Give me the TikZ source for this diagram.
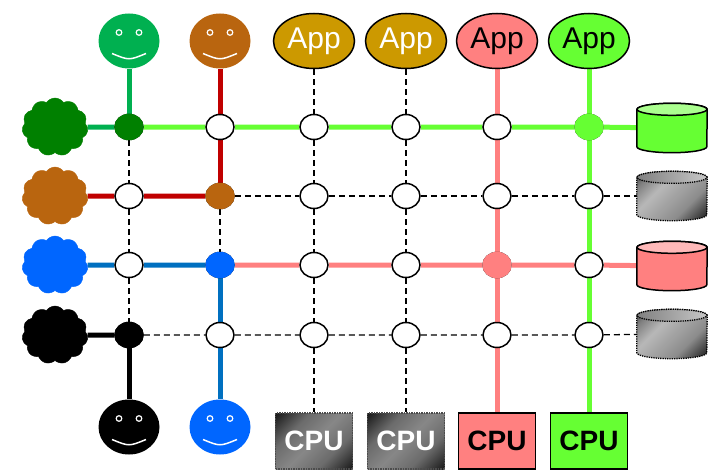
\documentclass[tikz,border=0pt]{standalone}
\usepackage{fontspec}
\setmainfont{Liberation Sans}
\usetikzlibrary{shapes.geometric,shapes.symbols,backgrounds}

\definecolor{facegreen}{HTML}{00B050}
\definecolor{darkgreen}{HTML}{008000}
\definecolor{limegreen}{HTML}{66FF33}
\definecolor{rust}{HTML}{B9650F}
\definecolor{darkred}{HTML}{C00000}
\definecolor{gold}{HTML}{CC9900}
\definecolor{salmon}{HTML}{FF8080}
\definecolor{brightblue}{HTML}{0066FF}
\definecolor{steelblue}{HTML}{0070C0}

% brushed metal look for the idle boxes and drums
\pgfdeclareverticalshading{metal}{100bp}{color(0bp)=(black!92); color(16bp)=(black!88);
  color(33bp)=(black!58); color(50bp)=(black!47); color(67bp)=(black!58);
  color(84bp)=(black!88); color(100bp)=(black!92)}
\pgfdeclareverticalshading{drumtone}{100bp}{color(0bp)=(black!92); color(16bp)=(black!88);
  color(35bp)=(black!45); color(62bp)=(black!28); color(76bp)=(black!50);
  color(86bp)=(black!80); color(100bp)=(black!85)}

% storage drum around a db node: name, body options, lid options
\newcommand\drum[3]{%
  \path[#2] ([yshift=-6pt]#1.north west) -- ([yshift=6pt]#1.south west)
    arc[start angle=180, end angle=360, x radius=35pt, y radius=6pt]
    -- ([yshift=-6pt]#1.north east)
    arc[start angle=0, end angle=180, x radius=35pt, y radius=6pt] -- cycle;
  \path[#3] ([yshift=-6pt]#1.north) ellipse[x radius=35pt, y radius=6pt];
}

\tikzset{
  jn/.style={ellipse, draw, line width=1.5pt, fill=white,
    minimum width=28pt, minimum height=25pt, inner sep=0pt},
  jf/.style={jn, draw=#1, fill=#1},
  wire/.style={draw=#1, line width=5pt},
  link/.style={draw=black, line width=1.3pt, dash pattern=on 6pt off 4pt},
  cloudy/.style={cloud, cloud puffs=11, cloud puff arc=110, aspect=1.1,
    fill=#1, draw=#1, minimum width=66pt, minimum height=58pt, inner sep=0pt},
  smiley/.style={ellipse, fill=#1, minimum width=61pt, minimum height=55pt,
    inner sep=0pt, path picture={
      \coordinate (fc) at (path picture bounding box.center);
      \draw[white, line width=1.2pt] ([shift={(-10pt,8.5pt)}]fc) circle (2.8pt)
        ([shift={(10pt,8.5pt)}]fc) circle (2.8pt);
      \draw[white, line width=1.5pt] ([shift={(-17pt,-12.5pt)}]fc)
        .. controls ([shift={(0pt,-19.5pt)}]fc) .. ([shift={(17pt,-12.5pt)}]fc);
    }},
  app/.style={ellipse, draw, line width=1.5pt, fill=#1, minimum width=81pt,
    minimum height=55pt, inner sep=0pt, font=\fontsize{30}{30}\selectfont},
  cpu/.style={rectangle, draw, line width=1.5pt, fill=#1, minimum width=77pt,
    minimum height=56pt, inner sep=0pt, font=\bfseries\fontsize{28}{28}\selectfont},
  cpugray/.style={cpu, draw=black!70, densely dotted, shading=metal,
    shading angle=45, text=white},
  db/.style={rectangle, minimum width=70pt, minimum height=49pt, inner sep=0pt},
  dbbody/.style={draw, line width=1.5pt, fill=#1},
  graybody/.style={draw, line width=1.3pt, densely dotted, shading=drumtone,
    shading angle=45},
  graylid/.style={draw, line width=1.3pt, densely dotted, left color=black!50,
    right color=black!22}
}

\begin{document}
\begin{tikzpicture}[x=1pt,y=1pt]
\useasboundingbox (0,0) rectangle (711,475);

% crossing points
\foreach \r/\y in {1/348,2/279,3/210,4/140}
  \foreach \c/\x in {1/129,2/220,3/314,4/406,5/497,6/589}
    \node[jn] (j\r\c) at (\x,\y) {};
\node[jf=darkgreen] (j11) at (j11) {};
\node[jf=limegreen] (j16) at (j16) {};
\node[jf=rust] (j22) at (j22) {};
\node[jf=brightblue] (j32) at (j32) {};
\node[jf=salmon] (j35) at (j35) {};
\node[jf=black] (j41) at (j41) {};

% users
\node[smiley=facegreen] (u1) at (129,434) {};
\node[smiley=rust] (u2) at (220,434) {};
\node[smiley=black] (u3) at (129,48) {};
\node[smiley=brightblue] (u4) at (220,48) {};

% clouds
\node[cloudy=darkgreen] (k1) at (55,348) {};
\node[cloudy=rust] (k2) at (55,279) {};
\node[cloudy=brightblue] (k3) at (55,210) {};
\node[cloudy=black] (k4) at (55,140) {};

% applications
\node[app=gold, text=white] (a3) at (314,434) {App};
\node[app=gold, text=white] (a4) at (406,434) {App};
\node[app=salmon] (a5) at (497,434) {App};
\node[app=limegreen] (a6) at (589,434) {App};

% processors
\node[cpugray] (p3) at (314,34) {CPU};
\node[cpugray] (p4) at (406,34) {CPU};
\node[cpu=salmon] (p5) at (497,34) {CPU};
\node[cpu=limegreen] (p6) at (589,34) {CPU};

% storage
\node[db] (d1) at (672,347) {};
\node[db] (d2) at (672,279) {};
\node[db] (d3) at (672,209) {};
\node[db] (d4) at (672,141) {};
\drum{d1}{dbbody=limegreen}{dbbody=limegreen!55!white}
\drum{d2}{graybody}{graylid}
\drum{d3}{dbbody=salmon}{dbbody=salmon!55!white}
\drum{d4}{graybody}{graylid}

\begin{scope}[on background layer]
\draw[wire=facegreen] (k1) -- (j11);
\draw[wire=facegreen] (j11) -- (u1);
\draw[wire=limegreen] (j11) -- (j12) -- (j13) -- (j14) -- (j15) -- (j16) -- (d1);
\draw[wire=limegreen] (a6) -- (j16) -- (j26) -- (j36) -- (j46) -- (p6);
\draw[wire=darkred] (k2) -- (j21) -- (j22);
\draw[wire=darkred] (j22) -- (j12) -- (u2);
\draw[wire=steelblue] (k3) -- (j31) -- (j32);
\draw[wire=steelblue] (j32) -- (j42) -- (u4);
\draw[wire=salmon] (j32) -- (j33) -- (j34) -- (j35) -- (j36) -- (d3);
\draw[wire=salmon] (a5) -- (j15) -- (j25) -- (j35) -- (j45) -- (p5);
\draw[wire=black] (k4) -- (j41);
\draw[wire=black] (j41) -- (u3);
\draw[link] (j22) -- (j23) -- (j24) -- (j25) -- (j26) -- (d2);
\draw[link] (j41) -- (j42) -- (j43) -- (j44) -- (j45) -- (j46) -- (d4);
\draw[link] (j11) -- (j21) -- (j31) -- (j41);
\draw[link] (j22) -- (j32);
\draw[link] (a3) -- (j13) -- (j23) -- (j33) -- (j43) -- (p3);
\draw[link] (a4) -- (j14) -- (j24) -- (j34) -- (j44) -- (p4);
\end{scope}
\end{tikzpicture}
\end{document}
